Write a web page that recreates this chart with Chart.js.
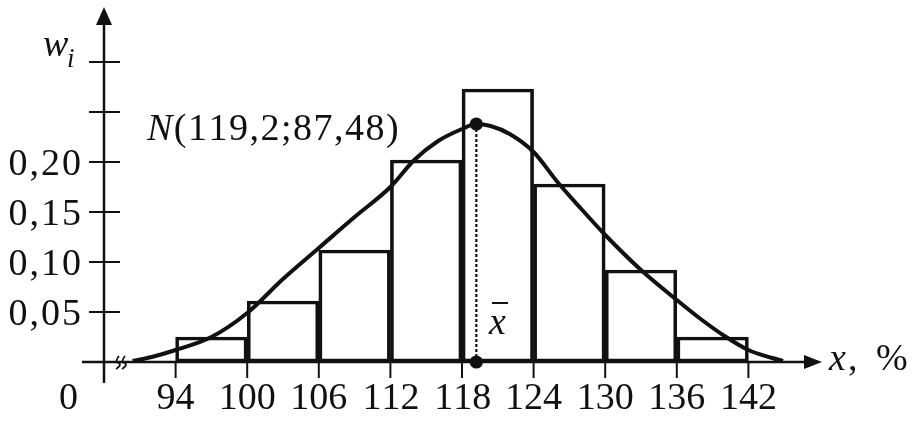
<!DOCTYPE html>
<html>
<head>
<meta charset="utf-8">
<script src="https://cdn.jsdelivr.net/npm/chart.js@4/dist/chart.umd.min.js"></script>
<style>
  html, body { margin: 0; padding: 0; background: #fff; }
  #wrap { width: 917px; height: 434px; }
  .preload { position: absolute; left: -9999px; top: 0; font: 38px "Liberation Serif"; }
  .preload i { font-style: italic; }
</style>
</head>
<body>
<span class="preload">0,20 <i>N x w</i></span>
<div id="wrap"><canvas id="myChart" width="917" height="434"></canvas></div>
<script>
// histogram: interval bounds and relative frequencies w_i
var binEdges = [94, 100, 106, 112, 118, 124, 130, 136, 142];
var binFreq = [0.025, 0.061, 0.112, 0.202, 0.273, 0.178, 0.092, 0.025];

// fitted normal curve
var curveX = [90.4, 92, 94, 97, 100, 103, 106, 109, 112, 114, 116, 118, 119.2, 120.4, 122, 124, 126, 128, 130, 133, 136, 138, 140, 142, 144, 144.9];
var curveY = [0.001, 0.005, 0.012, 0.025, 0.049, 0.083, 0.114, 0.145, 0.175, 0.202, 0.221, 0.233, 0.238, 0.236, 0.228, 0.210, 0.180, 0.153, 0.127, 0.092, 0.062, 0.043, 0.026, 0.012, 0.004, 0.001];

// mean and curve label
var meanX = 119.2;
var meanY = 0.238;
var curveLabel = 'N(119,2;87,48)';

// axis ticks
var xTicks = [94, 100, 106, 112, 118, 124, 130, 136, 142];
var yTicks = [0.05, 0.10, 0.15, 0.20, 0.25, 0.30];
var yTickLabels = ['0,05', '0,10', '0,15', '0,20', '', ''];

var serif = '"Liberation Serif", "Times New Roman", serif';

// bars at bin centres
var barData = [];
for (var i = 0; i < binFreq.length; i++) {
    barData.push({ x: (binEdges[i] + binEdges[i + 1]) / 2, y: binFreq[i] });
}
var curveData = curveX.map(function (x, i) { return { x: x, y: curveY[i] }; });

// text with a little extra spacing, returns the end x
function spacedText(ctx, s, x, y, gap) {
    for (var k = 0; k < s.length; k++) {
        ctx.fillText(s[k], x, y);
        x += ctx.measureText(s[k]).width + gap;
    }
    return x;
}
function spacedWidth(ctx, s, gap) {
    return ctx.measureText(s).width + gap * (s.length - 1);
}

// axes, arrows and texts drawn by hand (book style)
var axesPlugin = {
    id: 'bookAxes',
    beforeDatasetsDraw: function (chart) {
        var ctx = chart.ctx;
        var xs = chart.scales.x, ys = chart.scales.y;
        var x0 = chart.chartArea.left;
        var y0 = ys.getPixelForValue(0);
        ctx.save();
        ctx.strokeStyle = '#111';
        ctx.fillStyle = '#111';
        ctx.lineWidth = 2.5;
        // y axis
        ctx.beginPath();
        ctx.moveTo(x0, 383);
        ctx.lineTo(x0, 20);
        ctx.stroke();
        ctx.beginPath();
        ctx.moveTo(x0, 7);
        ctx.lineTo(x0 - 8, 25);
        ctx.lineTo(x0 + 8, 25);
        ctx.closePath();
        ctx.fill();
        // x axis
        var xr = chart.chartArea.right;
        ctx.beginPath();
        ctx.moveTo(82, y0);
        ctx.lineTo(xr - 10, y0);
        ctx.stroke();
        ctx.beginPath();
        ctx.moveTo(xr + 2, y0);
        ctx.lineTo(xr - 16, y0 - 7);
        ctx.lineTo(xr - 16, y0 + 7);
        ctx.closePath();
        ctx.fill();
        // y ticks cross the axis
        ctx.lineWidth = 2;
        yTicks.forEach(function (v) {
            var py = ys.getPixelForValue(v);
            ctx.beginPath();
            ctx.moveTo(x0 - 15, py);
            ctx.lineTo(x0 + 16, py);
            ctx.stroke();
        });
        // x ticks below axis
        xTicks.forEach(function (v) {
            var px = xs.getPixelForValue(v);
            ctx.beginPath();
            ctx.moveTo(px, y0);
            ctx.lineTo(px, y0 + 16);
            ctx.stroke();
        });
        // axis break mark
        ctx.lineWidth = 1.8;
        [117, 123].forEach(function (bx) {
            ctx.beginPath();
            ctx.moveTo(bx + 2, y0 - 6);
            ctx.quadraticCurveTo(bx - 3, y0, bx + 2, y0 + 1);
            ctx.quadraticCurveTo(bx + 5, y0 + 3, bx - 1, y0 + 7);
            ctx.stroke();
        });
        ctx.restore();
    },
    afterDraw: function (chart) {
        var ctx = chart.ctx;
        var xs = chart.scales.x, ys = chart.scales.y;
        ctx.save();
        ctx.fillStyle = '#111';
        ctx.textBaseline = 'alphabetic';
        ctx.textAlign = 'left';
        ctx.font = '38px ' + serif;
        // x tick labels
        xTicks.forEach(function (v) {
            var s = String(v);
            spacedText(ctx, s, xs.getPixelForValue(v) - ctx.measureText(s).width / 2, 409, 0);
        });
        spacedText(ctx, '0', 59, 409, 0);
        // y tick labels, right aligned
        yTicks.forEach(function (v, i) {
            var s = yTickLabels[i];
            if (s) spacedText(ctx, s, 81 - spacedWidth(ctx, s, 2), ys.getPixelForValue(v) + 13, 2);
        });
        // axis titles
        ctx.font = 'italic 38px ' + serif;
        spacedText(ctx, 'w', 43, 56, 0);
        ctx.font = 'italic 27px ' + serif;
        spacedText(ctx, 'i', 67, 67, 0);
        ctx.font = 'italic 38px ' + serif;
        spacedText(ctx, 'x', 829, 370, 0);
        ctx.font = '38px ' + serif;
        spacedText(ctx, ',', 848, 370, 0);
        spacedText(ctx, '%', 876, 370, 0);
        // curve label
        ctx.font = 'italic 38px ' + serif;
        var nx = spacedText(ctx, curveLabel[0], 147, 140, 1.5);
        ctx.font = '38px ' + serif;
        spacedText(ctx, curveLabel.slice(1), nx, 140, 1.5);
        // x bar
        ctx.font = 'italic 38px ' + serif;
        spacedText(ctx, 'x', 489, 334, 0);
        ctx.fillRect(492, 302, 16, 2);
        ctx.restore();
    }
};

function createChart() {
    var ctx = document.getElementById('myChart').getContext('2d');
    new Chart(ctx, {
        data: {
            datasets: [{
                type: 'line',
                data: curveData,
                borderColor: '#111',
                borderWidth: 4,
                pointRadius: 0,
                tension: 0.4,
                cubicInterpolationMode: 'monotone',
                fill: false,
                order: 0
            }, {
                type: 'line',
                data: [{ x: meanX, y: meanY }, { x: meanX, y: 0 }],
                borderColor: '#111',
                borderWidth: 2.2,
                borderDash: [3, 2],
                pointRadius: 5.5,
                pointBackgroundColor: '#111',
                pointBorderColor: '#111',
                fill: false,
                order: 1
            }, {
                type: 'bar',
                data: barData,
                backgroundColor: 'rgba(255,255,255,0)',
                borderColor: '#111',
                borderWidth: 3,
                borderSkipped: false,
                barPercentage: 1,
                categoryPercentage: 1,
                grouped: false,
                order: 2
            }]
        },
        options: {
            responsive: false,
            animation: false,
            layout: { padding: { left: 104, right: 97, top: 12, bottom: 52 } },
            plugins: { legend: { display: false }, tooltip: { enabled: false } },
            scales: {
                x: { type: 'linear', min: 88, max: 148, offset: false, display: false, ticks: { stepSize: 6 } },
                y: { type: 'linear', min: -0.02, max: 0.35, display: false }
            }
        },
        plugins: [axesPlugin]
    });
}

// make sure the serif face is ready before drawing
Promise.all([
    document.fonts.load('38px "Liberation Serif"'),
    document.fonts.load('italic 38px "Liberation Serif"')
]).then(createChart, createChart);
</script>
</body>
</html>
